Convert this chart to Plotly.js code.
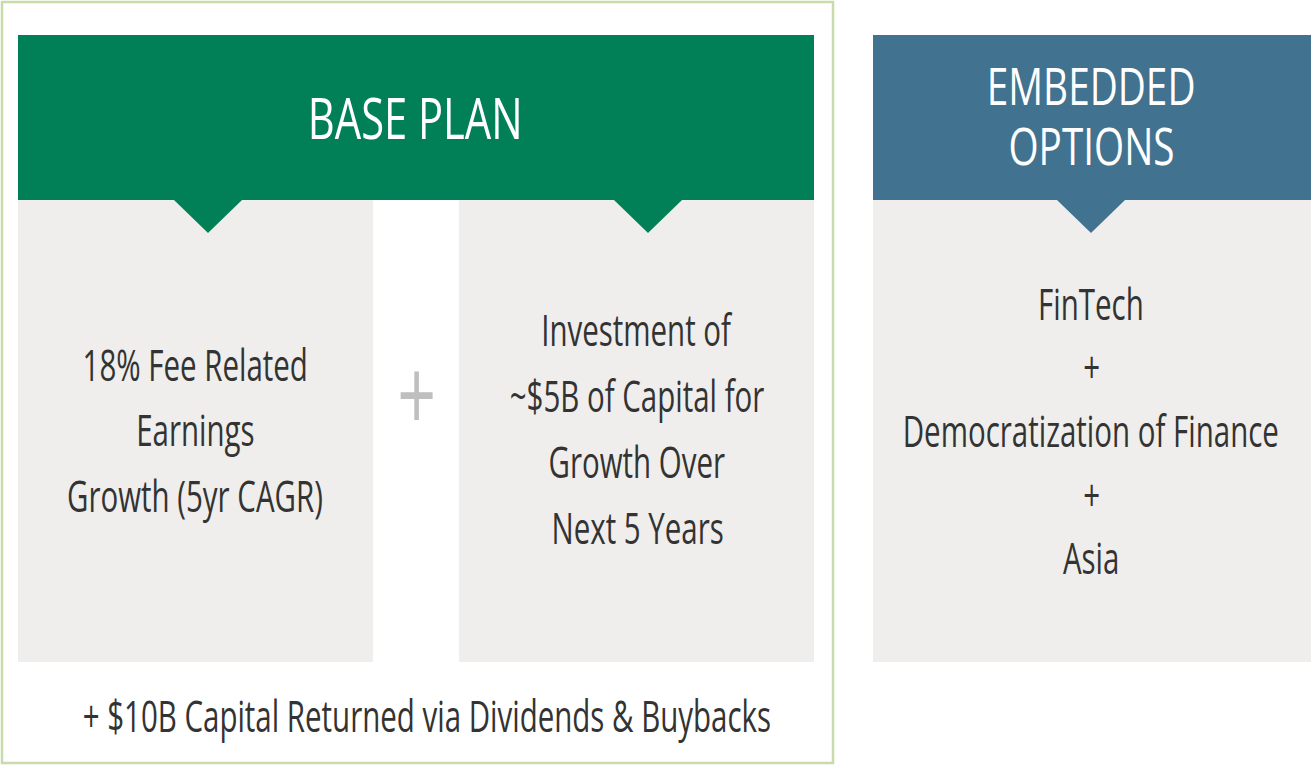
<!DOCTYPE html>
<html>
<head>
<meta charset="utf-8">
<script src="https://cdn.plot.ly/plotly-3.0.1.min.js"></script>
<style>
html,body{margin:0;padding:0;background:#ffffff;}
#chart{width:1311px;height:765px;}
</style>
</head>
<body>
<div id="chart"></div>
<script>
// ---- content ----
const basePlanTitle = ["BASE PLAN"];
const optionsTitle = ["EMBEDDED", "OPTIONS"];
const leftBoxLines = ["18% Fee Related", "Earnings", "Growth (5yr CAGR)"];
const midBoxLines = ["Investment of", "~$5B of Capital for", "Growth Over", "Next 5 Years"];
const rightBoxLines = ["FinTech", "+", "Democratization of Finance", "+", "Asia"];
const footerLines = ["+ $10B Capital Returned via Dividends & Buybacks"];
const joinSymbol = ["+"];

// ---- layout geometry (pixel space) ----
const FONT = '"Open Sans", "Noto Sans", sans-serif';
const GREEN = '#017f56', BLUE = '#41728f', GRAY = '#efeeec', BORDER = '#c8dcab', TXT = '#333333';
const TITLE_SQUEEZE = 0.745, BODY_SQUEEZE = 0.67;

const panels = {
  left:  {x0: 18,  x1: 373,  cx: 195,  top: 366, step: 65.5},
  mid:   {x0: 459, x1: 814,  cx: 637,  top: 331, step: 66},
  right: {x0: 873, x1: 1311, cx: 1091, top: 305, step: 63.7}
};
const boxTop = 200, boxBottom = 662, headTop = 35;

function tri(cx){
  return `M ${cx-34} ${boxTop} L ${cx+34} ${boxTop} L ${cx} 233 Z`;
}

const shapes = [
  {type:'rect', x0:2, x1:833, y0:2, y1:763, line:{color:BORDER, width:2.5}, fillcolor:'rgba(0,0,0,0)'},
  {type:'rect', x0:panels.left.x0, x1:panels.left.x1, y0:boxTop, y1:boxBottom, line:{width:0}, fillcolor:GRAY},
  {type:'rect', x0:panels.mid.x0, x1:panels.mid.x1, y0:boxTop, y1:boxBottom, line:{width:0}, fillcolor:GRAY},
  {type:'rect', x0:panels.right.x0, x1:panels.right.x1, y0:boxTop, y1:boxBottom, line:{width:0}, fillcolor:GRAY},
  {type:'rect', x0:18, x1:814, y0:headTop, y1:boxTop, line:{width:0}, fillcolor:GREEN},
  {type:'rect', x0:873, x1:1311, y0:headTop, y1:boxTop, line:{width:0}, fillcolor:BLUE},
  {type:'path', path:tri(208), line:{width:0}, fillcolor:GREEN},
  {type:'path', path:tri(648), line:{width:0}, fillcolor:GREEN},
  {type:'path', path:tri(1091), line:{width:0}, fillcolor:BLUE}
];

const annotations = [];
const squeeze = [];
// y given = desired centre of capital letters; shift to box centre
function addText(text, x, y, size, color, sq){
  annotations.push({text:text, x:x, y:y - size*0.055, xref:'x', yref:'y', showarrow:false,
    xanchor:'center', yanchor:'middle', font:{family:FONT, size:size, color:color}});
  squeeze.push(sq);
}
addText(basePlanTitle[0], 415, 120, 56, '#ffffff', TITLE_SQUEEZE);
optionsTitle.forEach((t,i)=>addText(t, 1091, 87 + i*60, 52, '#ffffff', TITLE_SQUEEZE));
leftBoxLines.forEach((t,i)=>addText(t, panels.left.cx, panels.left.top + i*panels.left.step, 44, TXT, BODY_SQUEEZE));
midBoxLines.forEach((t,i)=>addText(t, panels.mid.cx, panels.mid.top + i*panels.mid.step, 44, TXT, BODY_SQUEEZE));
rightBoxLines.forEach((t,i)=>addText(t, panels.right.cx, panels.right.top + i*panels.right.step, 44, TXT, BODY_SQUEEZE));
addText(footerLines[0], 427, 717, 44, TXT, BODY_SQUEEZE);
addText(joinSymbol[0], 416, 397, 100, '#bfbfbf', 0.68);

const layout = {
  width:1311, height:765,
  margin:{l:0, r:0, t:0, b:0},
  paper_bgcolor:'#ffffff', plot_bgcolor:'#ffffff',
  xaxis:{range:[0,1311], visible:false, fixedrange:true},
  yaxis:{range:[765,0], visible:false, fixedrange:true},
  shapes:shapes,
  annotations:annotations,
  showlegend:false
};

function squeezeTexts(){
  const groups = document.querySelectorAll('#chart .annotation');
  groups.forEach(g=>{
    const idx = +g.getAttribute('data-index');
    const t = g.querySelector('text.annotation-text');
    if(!t || isNaN(idx)) return;
    t.removeAttribute('transform');
    const bb = t.getBBox();
    const cx = bb.x + bb.width/2;
    const s = squeeze[idx];
    t.setAttribute('transform', `translate(${cx},0) scale(${s},1) translate(${-cx},0)`);
  });
}

Plotly.newPlot('chart', [{x:[], y:[], type:'scatter', hoverinfo:'skip'}], layout,
  {displayModeBar:false, staticPlot:true}).then(()=>{
    if(document.fonts && document.fonts.ready){ document.fonts.ready.then(squeezeTexts); }
    squeezeTexts();
  });
</script>
</body>
</html>
